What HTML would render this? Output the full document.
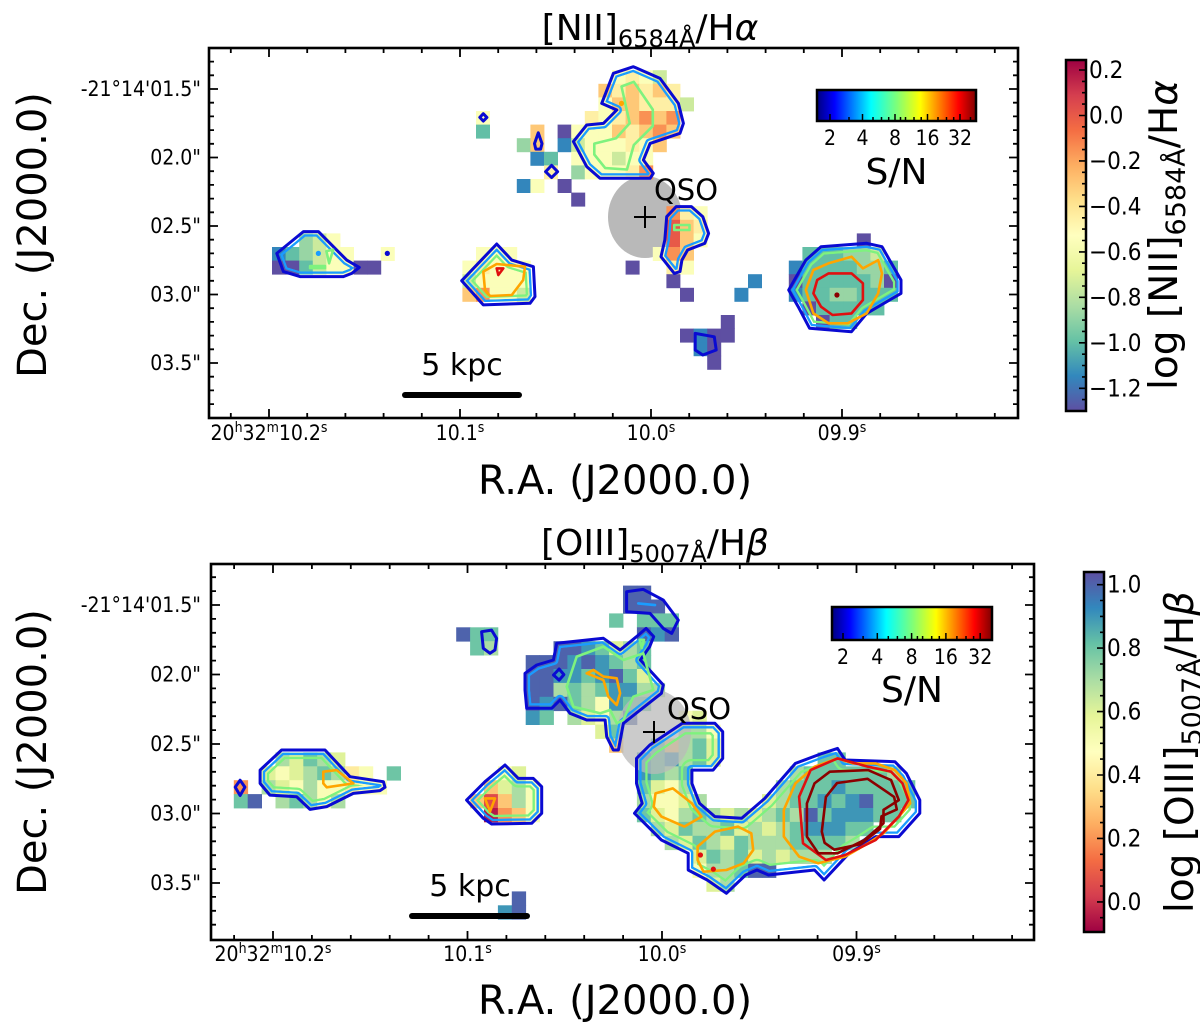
<!DOCTYPE html>
<html><head><meta charset="utf-8">
<style>html,body{margin:0;padding:0;background:#fff}svg{display:block;font-family:"DejaVu Sans","Liberation Sans",sans-serif}</style>
</head><body>
<svg id="fig" width="1200" height="1033" viewBox="0 0 1200 1033" xmlns="http://www.w3.org/2000/svg"><defs id="defs"></defs></svg>
<script>
// ---------- data ----------
const levelCodes = "PBTGgYyOoRD";
const topLevelValues = [-1.3,-1.15,-1.0,-0.88,-0.75,-0.55,-0.45,-0.3,-0.15,0.0,0.2];
const botLevelValues = [1.0,0.9,0.8,0.7,0.6,0.5,0.4,0.3,0.2,0.05,-0.05];
const topCells = [
 [2,30,"YyYg"],[3,29,"OyOyOy"],[4,29,"YOOyyyg"],[5,20,"Y"],[5,28,"yYyOoOo"],
 [6,20,"T...O.PYYYOyOoO"],[7,23,"GO.BgYYYyYO"],[8,24,"BT.YYYgYY"],[9,25,"y.GYYYyo"],
 [10,23,"BY.P"],[11,27,"P"],[12,34,"oyY"],[13,34,"ROy"],[14,34,"ROY"],[14,48,"P"],[14,7,"GgY"],
 [15,5,"BTGgYY..Y"],[15,20,"YYY"],[15,33,"YoO"],[15,44,"TTTGGg"],
 [16,5,"PPTgYYPP"],[16,19,"YyYYY"],[16,31,"P..yY"],[16,43,"BTTTTGGT"],
 [17,19,"gYYYY"],[17,34,"P"],[17,40,"B"],[17,43,"PTTTTTGP"],
 [18,19,"OoYYg"],[18,35,"P"],[18,39,"B"],[18,43,"BTTGGTTT"],
 [19,44,"PTTTTT"],[20,45,"PTT"],[20,38,"P"],[21,35,"PBPP"],[22,36,"BP"],[23,37,"P"]
];
const botCells = [
 [2,30,"PP"],[3,30,"PPP"],[4,29,"T.TTT"],[5,18,"PTT"],[5,31,"PBP"],[6,19,"TG"],
 [6,25,"PPBTgGT"],[7,23,"PPPBPBTGT"],[8,23,"PPBBTBPTg"],[9,23,"PPGTGTBBGG"],
 [10,23,"PBPTGYBTT"],[11,23,"BT.GgYGP"],[11,34,"Yg"],[12,28,"gT"],[12,34,"GGY"],
 [13,29,"O..TOGTg"],[14,5,"GgTGg"],[14,31,"BTBGTg"],[14,44,"TT"],
 [15,4,"gYgGTGyY.T"],[15,21,"Yg"],[15,31,"BTGT"],[15,42,"GTTTTTTG"],
 [16,2,"o.GgYGYYyYY"],[16,20,"OgGY"],[16,31,"TgYG"],[16,41,"GTTTBTTTTT"],
 [17,2,"TP.GTGYG"],[17,19,"OROGY"],[17,31,"GYYgG"],[17,40,"gGTTBTBPTTT"],
 [18,20,"DoOY"],[18,31,"TgYGTGgGgGTGPTBBBTT"],[19,32,"GgTGGTgGgGTBBBTT"],
 [20,33,"GgTGgTGGGTTTTG"],[21,35,"gTGTgGgGGG"],[22,35,"YGGTPP"],[23,36,"gG"],
 [24,22,"P"],[25,21,"BP"]
];
const topOutlines = [
 [[5.35,15.47],[7.31,13.87],[8.41,13.87],[10.49,15.96],[11.42,16.5],[10.86,16.94],[10.25,17.18],[7.06,17.18],[5.84,16.81]],
 [[18.95,17.48],[21.52,14.78],[22.63,15.96],[24.22,16.45],[24.34,18.65],[23.97,19.14],[20.54,19.26]],
 [[27.16,7.25],[28.14,6.03],[29.37,5.91],[30.35,4.93],[29.24,4.44],[30.1,2.23],[31.57,1.74],[33.53,2.6],[34.88,4.44],[35.25,5.91],[35.0,6.64],[32.8,7.38],[32.31,8.6],[33.04,9.58],[32.8,9.95],[29.12,9.95],[28.14,9.09]],
 [[34.02,12.77],[34.72,12.03],[35.84,12.03],[36.68,12.77],[37.1,14.0],[36.82,14.73],[35.56,15.22],[35.14,15.96],[35.0,16.81],[34.58,16.94],[33.6,15.71],[33.88,14.49]],
 [[42.99,18.16],[44.25,15.96],[45.37,14.98],[48.73,14.73],[49.85,14.98],[50.41,15.96],[51.25,17.43],[51.25,18.41],[50.41,18.9],[48.73,19.88],[47.61,21.23],[44.53,20.98],[43.69,19.39]],
 [[36.12,21.35],[37.52,21.6],[37.66,22.57],[36.68,22.94],[36.12,22.57]],
 [[20.54,5.2],[20.8,5.47],[20.54,5.74],[20.28,5.47]],
 [[24.58,6.6],[24.85,7.4],[24.75,7.8],[24.4,7.8],[24.3,7.4]],
 [[25.56,9.0],[26.0,9.46],[25.56,9.9],[25.12,9.46]]
];
const topOutlineBands = [[4],[4,8],[4],[4],[3.5,7],[],[],[],[]];
const topLines = [
 {lv:2, pts:[[9.0,15.3],[9.5,15.2],[9.2,16.2]]},
 {lv:2, pts:[[7.8,16.4],[8.9,16.4],[8.9,16.55],[7.8,16.55]]},
 {lv:2, pts:[[28.7,7.4],[30.3,7.0],[31.3,5.9],[30.7,3.2],[31.6,2.85],[33.0,4.9],[33.0,6.1],[31.6,7.5],[31.1,9.3],[29.5,9.2],[28.7,8.2]]},
 {lv:2, pts:[[34.58,13.38],[35.7,13.38],[35.7,13.75],[34.58,13.75]]},
 {lv:3, pts:[[20.54,16.81],[21.52,16.25],[23.6,16.45],[23.47,17.43],[22.63,18.53],[21.03,18.6],[20.66,18.16]]},
 {lv:4, pts:[[21.52,16.57],[22.01,16.57],[21.64,17.06]]},
 {lv:3, pts:[[44.25,18.16],[44.81,16.69],[45.93,16.2],[47.61,15.71],[48.45,16.57],[49.57,15.96],[49.85,16.94],[49.57,18.41],[48.73,19.88],[47.33,20.61],[45.93,20.61],[44.81,19.88]]},
 {lv:4, pts:[[44.81,18.41],[45.09,17.43],[45.93,16.94],[47.61,16.94],[48.45,17.67],[48.45,18.9],[47.61,19.88],[46.21,20.0],[45.37,19.39]]}
];
const topDots = [[30.7,4.44,3],[46.54,18.53,5],[8.41,15.47,1],[13.48,15.47,0]];
const botOutlines = [
 [[2.45,16.0],[2.8,16.5],[2.45,17.1],[2.1,16.5]],
 [[3.89,15.27],[5.44,13.83],[8.56,13.83],[10.36,15.75],[12.76,16.11],[12.88,16.51],[12.52,16.75],[10.6,16.95],[8.68,17.9],[7.48,18.1],[6.52,17.19],[4.6,17.07],[3.89,16.23]],
 [[18.75,17.43],[20.07,16.11],[21.51,14.91],[22.47,15.87],[23.55,15.87],[24.15,16.47],[24.15,18.38],[23.43,19.1],[20.55,19.15],[19.95,18.74]],
 [[19.83,5.32],[20.55,5.2],[20.91,5.8],[20.79,6.63],[20.43,6.87],[19.95,6.51]],
 [[22.95,8.31],[23.79,7.71],[24.99,7.35],[25.23,6.15],[28.59,5.79],[29.79,6.63],[30.98,5.67],[31.66,5.08],[32.21,5.67],[31.92,6.39],[31.25,7.35],[32.9,9.15],[32.76,9.75],[30.03,11.91],[29.67,13.83],[29.3,13.83],[28.83,12.87],[28.71,11.67],[27.39,11.67],[26.19,11.19],[25.47,10.23],[24.87,10.83],[23.07,10.83],[22.95,9.51]],
 [[30.26,2.44],[31.46,2.27],[32.9,3.04],[33.98,4.48],[33.5,5.44],[32.9,5.08],[31.94,4.0],[30.26,3.88]],
 [[30.97,14.43],[31.93,13.47],[34.27,11.91],[36.61,11.91],[37.17,12.51],[37.17,14.43],[36.48,15.27],[34.96,15.27],[34.96,16.23],[35.51,17.67],[36.61,18.62],[38.54,18.74],[40.2,17.31],[42.4,14.79],[44.33,14.07],[45.43,13.71],[45.98,14.55],[49.56,14.67],[50.39,15.51],[51.35,17.43],[51.35,18.38],[49.84,20.06],[48.18,20.06],[47.08,20.78],[46.26,21.26],[44.47,23.18],[43.78,22.46],[40.47,22.82],[39.64,22.46],[38.82,22.82],[37.44,24.14],[36.06,23.18],[34.69,22.46],[34.69,21.26],[32.76,20.3],[30.83,18.38],[31.38,17.67],[30.97,16.23]],
 [[25.0,8.43],[25.4,8.0],[25.75,8.4],[25.4,8.8]]
];
const botOutlineBands = [[],[4,8],[4,8],[],[4],[],[4,10],[]];
const botLines = [
 {lv:3, pts:[[8.44,15.39],[9.4,15.27],[10.6,16.23],[8.68,16.51],[8.44,16.23]]},
 {lv:3, pts:[[20.07,17.31],[20.79,17.31],[20.43,18.26]]},
 {lv:2, pts:[[25.95,9.27],[26.67,7.11],[28.59,6.39],[30.03,7.35],[31.46,6.87],[32.18,9.51],[30.74,9.99],[30.03,11.67],[29.55,11.91],[29.07,10.95],[28.35,11.19],[26.43,10.71]]},
 {lv:3, pts:[[27.39,8.31],[27.87,8.07],[28.59,8.55],[29.55,8.67],[29.79,9.75],[29.55,10.59],[28.95,9.99],[28.59,8.79]]},
 {lv:1, pts:[[31.1,3.28],[32.3,3.4]]},
 {lv:2, pts:[[31.2,5.9],[31.5,5.9],[31.35,6.5]]},
 {lv:3, pts:[[32.34,16.95],[33.58,16.59],[34.96,17.67],[35.65,18.62],[34.41,19.34],[32.76,18.62],[32.21,17.91]]},
 {lv:3, pts:[[35.37,20.78],[36.61,19.7],[38.27,19.34],[39.23,19.82],[39.37,21.02],[38.68,21.98],[37.44,22.46],[35.79,22.58],[35.37,21.74]]},
 {lv:3, pts:[[41.57,20.06],[41.57,18.14],[42.4,16.23],[43.78,15.03],[45.43,14.43],[46.53,14.79],[48.18,14.79],[49.56,15.27],[50.39,16.23],[50.66,17.67],[49.84,18.62],[48.74,19.82],[47.63,20.54],[45.98,21.5],[44.05,21.98],[42.67,21.5]]},
 {lv:4, pts:[[42.67,17.19],[43.5,15.27],[45.43,14.43],[47.63,15.03],[49.29,15.39],[50.11,16.23],[50.53,17.43],[49.84,18.62],[48.18,20.3],[45.98,21.38],[44.6,21.74],[42.95,20.54]]},
 {lv:5, pts:[[43.23,17.67],[43.78,16.23],[44.88,15.39],[47.63,15.27],[49.29,15.99],[49.84,17.43],[48.74,18.14],[48.74,19.1],[47.36,20.3],[45.43,21.26],[44.05,21.26],[43.23,20.06]]},
 {lv:5, pts:[[44.3,19.7],[44.6,17.2],[45.4,16.2],[47.6,15.9],[49.5,17.2],[49.7,18.1],[48.6,18.6],[48.5,19.5],[47.1,20.6],[45.2,21.0],[44.5,20.5]]}
];
const botDots = [[35.57,21.38,4],[36.5,22.4,4]];
const raTicks = [10.2,10.1,10.0,9.9];
const raTickLabels = ["10.2","10.1","10.0","09.9"];
const decTicks = [1.5,2.0,2.5,3.0,3.5];
const decTickLabels = ["-21\u00b014'01.5\"","02.0\"","02.5\"","03.0\"","03.5\""];
const cbTopTicks = [0.2,0.0,-0.2,-0.4,-0.6,-0.8,-1.0,-1.2];
const cbBotTicks = [1.0,0.8,0.6,0.4,0.2,0.0];
const snTicks = [2,4,8,16,32];
const snMinor = [3,5,6,7,9,10,12,14,20,24,28,40];

// ---------- helpers ----------
const NS='http://www.w3.org/2000/svg';
const svg=document.getElementById('fig');
const defs=document.getElementById('defs');
function mk(tag,attrs,parent){const e=document.createElementNS(NS,tag);for(const k in attrs)e.setAttribute(k,attrs[k]);(parent||svg).appendChild(e);return e;}
const spec=['#9e0142','#d53e4f','#f46d43','#fdae61','#fee08b','#ffffbf','#e6f598','#abdda4','#66c2a5','#3288bd','#5e4fa2'];
function hex(h){return [1,3,5].map(i=>parseInt(h.substr(i,2),16));}
function spectral(t){t=Math.max(0,Math.min(1,t));const f=t*10;const i=Math.min(9,Math.floor(f));const a=hex(spec[i]),b=hex(spec[i+1]);const r=f-i;return 'rgb('+a.map((v,k)=>Math.round(v+(b[k]-v)*r)).join(',')+')';}
const lvColors=['#0a0ad2','#1a9cff','#7ef27e','#ffa500','#e01010','#8b0000'];
let uid=0;
function txt(parent,x,y,str,size,anchor,name,rot,sc){
  const t=mk('text',{'font-size':size,'text-anchor':anchor||'middle',fill:'#000',transform:'translate('+x+','+y+')'+(rot?' rotate(-90)':'')+' scale('+(sc||1)+',1)'},parent);
  
  
  t.textContent=str;return t;
}

const panels=[
 {key:'top',ax:{l:209,r:1018,t:48,b:418},raRef:269,raScale:1910,decRef:89,decScale:137,
  grid:{x0:204,y0:43,c:13.6},cells:topCells,levels:topLevelValues,cmap:v=>spectral(1-(v+1.30)/1.544),
  outlines:topOutlines,bands:topOutlineBands,lines:topLines,dots:topDots,
  qso:{cx:645,cy:217,rx:37,ry:41,tx:686,ty:200,over:false},
  bar:{x1:405,x2:519,y:395,tx:462,ty:375},
  cb:{x:1066,y:60,w:20,h:351,vmax:0.244,vmin:-1.30,ticks:cbTopTicks,lx:1177,ly:235,line:'NII',sub:'6584\u00c5',tail:'/H\u03b1'},
  sn:{x:817,y:90,w:159,h:31,lx:830,per:32.5,ty:145,sy:184},
  title:{x:650,y:40,main:'[NII]',sub:'6584\u00c5',tail:'/H',greek:'\u03b1'},
  xlab:{y:440,ly:494},ylab:{x:46,y:235}},
 {key:'bottom',ax:{l:211,r:1034,t:564,b:940},raRef:273,raScale:1945,decRef:605,decScale:139,
  grid:{x0:206,y0:557.8,c:13.9},cells:botCells,levels:botLevelValues,cmap:v=>spectral((v+0.095)/1.135),
  outlines:botOutlines,bands:botOutlineBands,lines:botLines,dots:botDots,
  qso:{cx:654,cy:732,rx:37,ry:42,tx:699,ty:719,over:true},
  bar:{x1:412,x2:527,y:916,tx:470,ty:896},
  cb:{x:1084,y:572,w:20,h:360,vmax:1.04,vmin:-0.095,ticks:cbBotTicks,lx:1193,ly:752,line:'OIII',sub:'5007\u00c5',tail:'/H\u03b2'},
  sn:{x:832,y:607,w:160,h:33,lx:843,per:34.3,ty:664,sy:702},
  title:{x:655,y:555,main:'[OIII]',sub:'5007\u00c5',tail:'/H',greek:'\u03b2'},
  xlab:{y:961,ly:1014},ylab:{x:46,y:752}}
];

const jet=mk('linearGradient',{id:'jet',x1:0,y1:0,x2:1,y2:0},defs);
[['0','#00007f'],['0.11','#0000ff'],['0.34','#00ffff'],['0.5','#7dff7a'],['0.65','#ffff00'],['0.89','#ff0000'],['1','#7f0000']].forEach(s=>mk('stop',{offset:s[0],'stop-color':s[1]},jet));

panels.forEach(P=>{
 const g=mk('g',{});
 
 
 const A=P.ax, G=P.grid;
 const gx=u=>G.x0+u*G.c, gy=r=>G.y0+r*G.c;
 const pathOf=(pts)=>'M'+pts.map(p=>gx(p[0]).toFixed(1)+','+gy(p[1]).toFixed(1)).join('L')+'Z';
 const cid='ax'+P.key;
 const cp=mk('clipPath',{id:cid},defs); mk('rect',{x:A.l,y:A.t,width:A.r-A.l,height:A.b-A.t},cp);
 const plot=mk('g',{'clip-path':'url(#'+cid+')'},g);
 
 
 const drawQSO=()=>{
   const e=mk('ellipse',{cx:P.qso.cx,cy:P.qso.cy,rx:P.qso.rx,ry:P.qso.ry,fill:'#b9b9b9','fill-opacity':P.qso.over?0.75:1},plot);
   
   
 };
 if(!P.qso.over) drawQSO();
 P.cells.forEach(row=>{
   const r=row[0],c0=row[1],s=row[2];
   for(let i=0;i<s.length;i++){
     const k=levelCodes.indexOf(s[i]); if(k<0) continue;
     const v=P.levels[k];
     const rc=mk('rect',{x:gx(c0+i).toFixed(2),y:gy(r).toFixed(2),width:G.c+0.4,height:G.c+0.4,fill:P.cmap(v)},plot);
     
     
   }
 });
 if(P.qso.over) drawQSO();
 P.outlines.forEach((pts,i)=>{
   const d=pathOf(pts);
   (P.bands[i]||[]).forEach((off,j)=>{
     uid++;
     const c=mk('clipPath',{id:'bc'+uid},defs); mk('path',{d:d},c);
     const m=mk('mask',{id:'bm'+uid,maskUnits:'userSpaceOnUse',x:0,y:0,width:1200,height:1033},defs);
     mk('path',{d:d,fill:'none',stroke:'#fff','stroke-width':2*off+2.4,'stroke-linejoin':'round'},m);
     mk('path',{d:d,fill:'none',stroke:'#000','stroke-width':Math.max(0.1,2*off-2.4),'stroke-linejoin':'round'},m);
     const bp=mk('path',{d:d,fill:'none',stroke:lvColors[j+1],'stroke-width':2*off+2.4,'clip-path':'url(#bc'+uid+')',mask:'url(#bm'+uid+')'},plot);
     
     
   });
   const op=mk('path',{d:d,fill:'none',stroke:lvColors[0],'stroke-width':3,'stroke-linejoin':'round'},plot);
   
   
 });
 P.lines.forEach(L=>{
   const lp=mk('path',{d:pathOf(L.pts),fill:'none',stroke:lvColors[L.lv],'stroke-width':2.6,'stroke-linejoin':'round'},plot);
   
   
 });
 P.dots.forEach(D=>{
   const dc=mk('circle',{cx:gx(D[0]),cy:gy(D[1]),r:2.6,fill:lvColors[D[2]]},plot);
   
   
 });
 const q=P.qso;
 const plus=mk('path',{d:'M'+(q.cx-11)+','+q.cy+'h22M'+q.cx+','+(q.cy-11)+'v22',stroke:'#000','stroke-width':2},g);
 
 
 txt(g,q.tx,q.ty,'QSO',29,'middle',P.key+'-qso-label');
 const sb=mk('line',{x1:P.bar.x1,x2:P.bar.x2,y1:P.bar.y,y2:P.bar.y,stroke:'#000','stroke-width':6,'stroke-linecap':'round'},g);
 
 
 txt(g,P.bar.tx,P.bar.ty,'5 kpc',30,'middle',P.key+'-scale-bar-label');
 const fr=mk('rect',{x:A.l,y:A.t,width:A.r-A.l,height:A.b-A.t,fill:'none',stroke:'#000','stroke-width':2.6},g);
 
 
 const xs=s=>P.raRef+(10.2-s)*P.raScale, ys=d=>P.decRef+(d-1.5)*P.decScale;
 let td='';
 for(let m=1030;m>=970;m-=2){const x=xs(m/100);if(x<A.l+2||x>A.r-2)continue;const L=(m%10===0)?9:5;td+='M'+x.toFixed(1)+','+A.b+'v'+(-L)+'M'+x.toFixed(1)+','+A.t+'v'+L;}
 for(let m=10;m<=40;m++){const y=ys(m/10);if(y<A.t+2||y>A.b-2)continue;const L=(m%5===0)?9:5;td+='M'+A.l+','+y.toFixed(1)+'h'+L+'M'+A.r+','+y.toFixed(1)+'h'+(-L);}
 const tk=mk('path',{d:td,stroke:'#000','stroke-width':1.8,fill:'none'},g);
 
 
 raTicks.forEach((s,i)=>{
   const x=xs(s);
   const t=mk('text',{'font-size':21,'text-anchor':'middle',transform:'translate('+x.toFixed(1)+','+P.xlab.y+') scale(0.9,1)'},g);
   
   
   if(i===0){
     mk('tspan',{},t).textContent='20';
     mk('tspan',{dy:-8,'font-size':14},t).textContent='h';
     mk('tspan',{dy:8},t).textContent='32';
     mk('tspan',{dy:-8,'font-size':14},t).textContent='m';
     mk('tspan',{dy:8},t).textContent=raTickLabels[i];
   } else {
     mk('tspan',{},t).textContent=raTickLabels[i];
   }
   mk('tspan',{dy:-8,'font-size':14},t).textContent='s';
 });
 decTicks.forEach((d,i)=>{ txt(g,201,(ys(d)+7).toFixed(1),decTickLabels[i],21,'end','y-tick-label',false,0.9); });
 txt(g,615,P.xlab.ly,'R.A. (J2000.0)',40,'middle',P.key+'-x-axis-title');
 txt(g,P.ylab.x,P.ylab.y,'Dec. (J2000.0)',40,'middle',P.key+'-y-axis-title',true);
 const T=P.title;
 const tt=mk('text',{'font-size':36,'text-anchor':'middle',transform:'translate('+T.x+','+T.y+')'},g);
 
 
 mk('tspan',{},tt).textContent=T.main;
 mk('tspan',{dy:7,'font-size':24},tt).textContent=T.sub;
 mk('tspan',{dy:-7},tt).textContent=T.tail;
 mk('tspan',{'font-style':'italic'},tt).textContent=T.greek;
 const C=P.cb;
 const gid='cbg'+P.key;
 const lg=mk('linearGradient',{id:gid,x1:0,y1:0,x2:0,y2:1},defs);
 for(let i=0;i<=20;i++){const v=C.vmax-(C.vmax-C.vmin)*i/20;mk('stop',{offset:i/20,'stop-color':P.cmap(v)},lg);}
 const cbr=mk('rect',{x:C.x,y:C.y,width:C.w,height:C.h,fill:'url(#'+gid+')',stroke:'#000','stroke-width':2.5},g);
 
 
 const cy=v=>C.y+(C.vmax-v)/(C.vmax-C.vmin)*C.h;
 let cd='';
 for(let m=-140;m<=110;m+=5){const v=m/100;if(v>C.vmax-0.005||v<C.vmin+0.005)continue;const L=(m%20===0)?7:4;cd+='M'+(C.x+C.w)+','+cy(v).toFixed(1)+'h'+(-L);}
 const ct=mk('path',{d:cd,stroke:'#000','stroke-width':1.6},g);
 
 
 C.ticks.forEach(v=>{ txt(g,C.x+C.w+3,(cy(v)+8).toFixed(1),(v<0?'\u2212':'')+Math.abs(v).toFixed(1),24,'start','colorbar-tick-label',false,0.9); });
 const cl=mk('text',{'font-size':39,'text-anchor':'middle',transform:'translate('+C.lx+','+C.ly+') rotate(-90)'},g);
 
 
 mk('tspan',{},cl).textContent='log ['+C.line+']';
 mk('tspan',{dy:8,'font-size':27},cl).textContent=C.sub;
 mk('tspan',{dy:-8},cl).textContent=C.tail.slice(0,2);
 mk('tspan',{'font-style':'italic'},cl).textContent=C.tail.slice(2);
 const S=P.sn;
 const sr=mk('rect',{x:S.x,y:S.y,width:S.w,height:S.h,fill:'url(#jet)',stroke:'#000','stroke-width':2.5},g);
 
 
 const sx=n=>S.lx+(Math.log2(n)-1)*S.per;
 let sd='';
 snTicks.forEach(n=>{sd+='M'+sx(n).toFixed(1)+','+(S.y+S.h)+'v-7';});
 snMinor.forEach(n=>{const x=sx(n);if(x<S.x+S.w-2)sd+='M'+x.toFixed(1)+','+(S.y+S.h)+'v-4';});
 const st=mk('path',{d:sd,stroke:'#000','stroke-width':1.5},g);
 
 
 snTicks.forEach(n=>{ txt(g,sx(n).toFixed(1),S.ty,String(n),21,'middle','sn-tick-label',false,0.9); });
 txt(g,S.x+S.w/2,S.sy,'S/N',36,'middle',P.key+'-sn-title');
});
</script>
</body></html>
